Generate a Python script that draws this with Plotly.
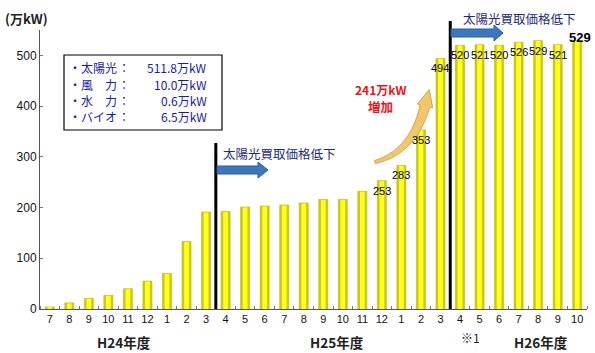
import numpy as np
import plotly.graph_objects as go

# ---- data ----
months = ["7", "8", "9", "10", "11", "12", "1", "2", "3",
          "4", "5", "6", "7", "8", "9", "10", "11", "12", "1", "2", "3",
          "4", "5", "6", "7", "8", "9", "10"]
values = [4, 12, 21, 27, 40, 55, 70, 133, 191,
          192, 201, 203, 205, 209, 216, 216, 232, 253, 283, 353, 494,
          520, 521, 520, 526, 529, 521, 529]
labeled_from = 17  # bars that carry a value label
year_labels = ["H24年度", "H25年度", "H26年度"]
legend_names = ["・太陽光", "・風\u3000力", "・水\u3000力", "・バイオ"]
legend_values = ["511.8万kW", "10.0万kW", "0.6万kW", "6.5万kW"]
yticks = [0, 100, 200, 300, 400, 500]
price_note = "太陽光買取価格低下"

n = len(values)
x = list(range(n))

# plot area geometry (pixels)
W, H = 595, 353
L, R, T, B = 40, 8, 30, 44
pw, ph = W - L - R, H - T - B

def px(xp):
    return (xp - L) / pw

def py(yp):
    return (H - B - yp) / ph

JP = "Noto Sans CJK JP"
AR = "Liberation Sans, Arial"

fig = go.Figure()
fig.add_bar(x=x, y=values, width=0.46, marker=dict(color="#CFCB10", line=dict(color="#B9B600", width=0.6)),
            hoverinfo="skip")
fig.add_bar(x=x, y=[v - 0.8 for v in values], width=0.24, marker=dict(color="#FFFF1E", line=dict(width=0)),
            hoverinfo="skip")

shapes = []
annotations = []

def note(xp, yp, text, size, color, family=JP, xanchor="center"):
    annotations.append(dict(x=px(xp), y=py(yp), xref="paper", yref="paper", xanchor=xanchor, yanchor="middle",
                            text=text, showarrow=False, font=dict(family=family, size=size, color=color)))

# value labels
for i in range(labeled_from, n):
    last = i == n - 1
    annotations.append(dict(x=i, y=values[i], xref="x", yref="y", xanchor="center", yanchor="middle",
                            text="<b>529</b>" if last else str(values[i]), showarrow=False,
                            yshift=3 if last else -10, xshift=3 if last else 0,
                            font=dict(family=AR, size=13 if last else 11, color="#000")))

# vertical boundary lines
for bidx, ytop in [(9, 143), (21, 21)]:
    xp = L + pw * bidx / n
    shapes.append(dict(type="line", xref="paper", yref="paper", x0=px(xp), x1=px(xp), y0=0, y1=py(ytop),
                       line=dict(color="#000", width=3)))

# blue arrows
def blue_arrow(x0, x1, x2, yc):
    pts = [(x0, yc - 4), (x1, yc - 4), (x1, yc - 8), (x2, yc), (x1, yc + 8), (x1, yc + 4), (x0, yc + 4)]
    p = "M " + " L ".join(f"{px(a):.5f},{py(b):.5f}" for a, b in pts) + " Z"
    shapes.append(dict(type="path", xref="paper", yref="paper", path=p,
                       fillcolor="#3C78C0", line=dict(color="#2B5C9C", width=1)))

blue_arrow(217, 258, 268, 170)
blue_arrow(451, 494, 503, 33)
note(221, 153, price_note, 12.5, "#1E2A78", xanchor="left")
note(461, 19, price_note, 12.5, "#1E2A78", xanchor="left")

# curved growth arrow
P0, P1, P2 = np.array([375.0, 162.0]), np.array([413.0, 152.0]), np.array([425.0, 106.0])
ts = np.linspace(0, 1, 30)
cen = [(1 - t) ** 2 * P0 + 2 * (1 - t) * t * P1 + t ** 2 * P2 for t in ts]
tan = [2 * (1 - t) * (P1 - P0) + 2 * t * (P2 - P1) for t in ts]
left, right = [], []
for t, c, d in zip(ts, cen, tan):
    d = d / np.linalg.norm(d)
    nrm = np.array([-d[1], d[0]])
    w = 1.5 + 3.5 * t
    left.append(c + nrm * w)
    right.append(c - nrm * w)
d = tan[-1] / np.linalg.norm(tan[-1])
nrm = np.array([-d[1], d[0]])
head = [P2 + nrm * 8, P2 + d * 17, P2 - nrm * 8]
poly = left + [P2 + nrm * 5, head[0], head[1], head[2], P2 - nrm * 5] + right[::-1]
p = "M " + " L ".join(f"{px(a):.5f},{py(b):.5f}" for a, b in poly) + " Z"
shapes.append(dict(type="path", xref="paper", yref="paper", path=p,
                   fillcolor="#F2C66A", line=dict(color="#D9A548", width=1)))
note(380, 89, "<b>241万kW</b>", 12, "#E8141E")
note(380, 106, "<b>増加</b>", 12.5, "#E8141E")

# legend box
shapes.append(dict(type="rect", xref="paper", yref="paper", x0=px(64), x1=px(222), y0=py(130), y1=py(55),
                   fillcolor="#fff", line=dict(color="#000", width=1.2)))
for k, (nm, vl) in enumerate(zip(legend_names, legend_values)):
    yy = 68 + k * 16.3
    note(67, yy, nm, 12, "#1A1AA8", xanchor="left")
    note(124, yy, "：", 12, "#1A1AA8")
    note(209, yy, vl, 12, "#1A1AA8", xanchor="right")

# axis title
note(3, 18, "<b>(万kW)</b>", 13, "#222", xanchor="left")

# year labels
for txt, xc in zip(year_labels, [124, 337, 541]):
    note(xc, 342, "<b>" + txt + "</b>", 13.5, "#222")
note(470, 337, "※1", 12, "#222")

fig.update_layout(
    width=W, height=H, margin=dict(l=L, r=R, t=T, b=B),
    paper_bgcolor="#fff", plot_bgcolor="#fff",
    barmode="overlay", showlegend=False,
    shapes=shapes, annotations=annotations,
    xaxis=dict(range=[-0.5, n - 0.5], tickmode="array", tickvals=x, ticktext=months, ticks="",
               showline=True, linecolor="#555", linewidth=1, showgrid=False, zeroline=False,
               tickfont=dict(family=AR, size=11, color="#111"),
               minor=dict(ticks="inside", tick0=0.5, dtick=1, ticklen=3, tickcolor="#777", showgrid=False)),
    yaxis=dict(range=[0, 550], tickvals=yticks, ticks="inside", ticklen=3, tickcolor="#777",
               showline=True, linecolor="#555", linewidth=1, showgrid=False, zeroline=False,
               tickfont=dict(family=AR, size=12, color="#111")),
)

fig.write_html("out.html")
